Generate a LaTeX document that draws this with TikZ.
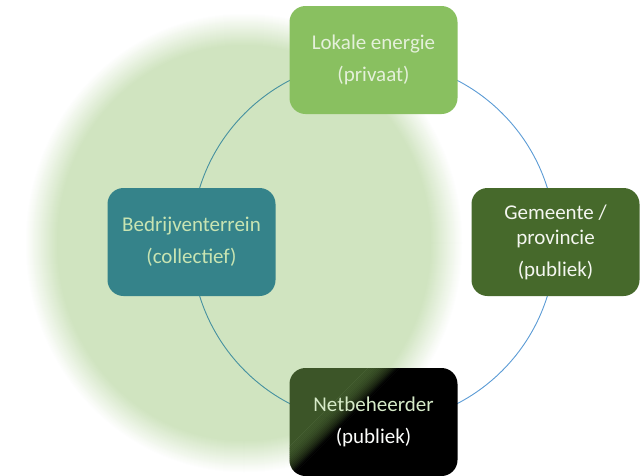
\documentclass[tikz,border=0pt]{standalone}
\usepackage{fontspec}
\setmainfont{Carlito}
\begin{document}
\definecolor{diskgreen}{RGB}{208,228,192}
\definecolor{lokaal}{RGB}{137,192,96}
\definecolor{lokaaltxt}{RGB}{228,240,218}
\definecolor{bedrijf}{RGB}{53,131,138}
\definecolor{bedrijftxt}{RGB}{200,228,178}
\definecolor{gemeente}{RGB}{70,105,43}
\definecolor{gemeentetxt}{RGB}{244,246,240}
\definecolor{netgreen}{RGB}{60,85,40}
\definecolor{nettxt}{RGB}{214,234,200}
\definecolor{arcteal}{RGB}{70,145,160}
\definecolor{arcblue}{RGB}{91,155,213}
\begin{tikzpicture}[x=1pt,y=-1pt,
  every node/.style={font=\fontsize{21}{25}\selectfont, align=center},
  rolebox/.style={rounded corners=16pt, minimum width=168pt, minimum height=108pt,
    inner sep=0pt},
  ring/.style={line width=0.9pt}]
\useasboundingbox (0,0) rectangle (641,475);

% soft green disk behind the left half of the ring
\coordinate (disk) at (244,243);
\foreach \k in {0,...,32}{
  \pgfmathtruncatemacro\mix{\k*100/32}
  \fill[diskgreen!\mix!white] (disk) ellipse [x radius={219-\k}, y radius={230-\k}];
}

% anchor points of the ring (centres of the four boxes)
\coordinate (ptop) at (373.5,60);
\coordinate (pleft) at (191.5,242);
\coordinate (pright) at (555.5,242);
\coordinate (pbot) at (373.5,422);

% ring linking the four roles, drawn before the boxes so they cover it
\draw[ring, arcteal] (ptop) arc[start angle=-90, end angle=-180, radius=182];
\draw[ring, arcteal] (pleft) arc[start angle=180, end angle=90, radius=182];
\draw[ring, arcblue] (ptop) arc[start angle=-90, end angle=0, radius=182];
\draw[ring, arcblue] (pright) arc[start angle=0, end angle=90, radius=182];

% role boxes
\node[rolebox, fill=lokaal, text=lokaaltxt] (top) at (ptop)
  {Lokale energie\\[7pt](privaat)};
\node[rolebox, fill=bedrijf, text=bedrijftxt] (left) at (pleft)
  {Bedrijventerrein\\[7pt](collectief)};
\node[rolebox, fill=gemeente, text=gemeentetxt] (right) at (pright)
  {Gemeente /\\provincie\\[7pt](publiek)};

% background of the grid operator box: dark green fading diagonally into
% black; the band edges are the lines dx+dy = k around the box centre
\begin{scope}
  \clip[rounded corners=16pt] (289.5,368) rectangle (457.5,476);
  \begin{scope}[shift={(pbot)}]
    \fill[netgreen] (-360,-300) -- (240,-300) -- (-360,300) -- cycle;
    \foreach \i in {0,...,15}{
      \pgfmathtruncatemacro\p{100*(1-(\i/15)^2)}
      \pgfmathsetmacro\ka{-60+2*\i}
      \pgfmathsetmacro\kb{-57.5+2*\i}
      \fill[netgreen!\p!black] ({\ka+300},-300) -- ({\kb+300},-300)
        -- ({\kb-300},300) -- ({\ka-300},300) -- cycle;
    }
    \fill[black] (272,-300) -- (-328,300) -- (300,300) -- (300,-300) -- cycle;
  \end{scope}
\end{scope}
\node[rolebox, text=nettxt] (bot) at (pbot)
  {Netbeheerder\\[7pt]\color{white!92!nettxt}(publiek)};
\end{tikzpicture}
\end{document}
